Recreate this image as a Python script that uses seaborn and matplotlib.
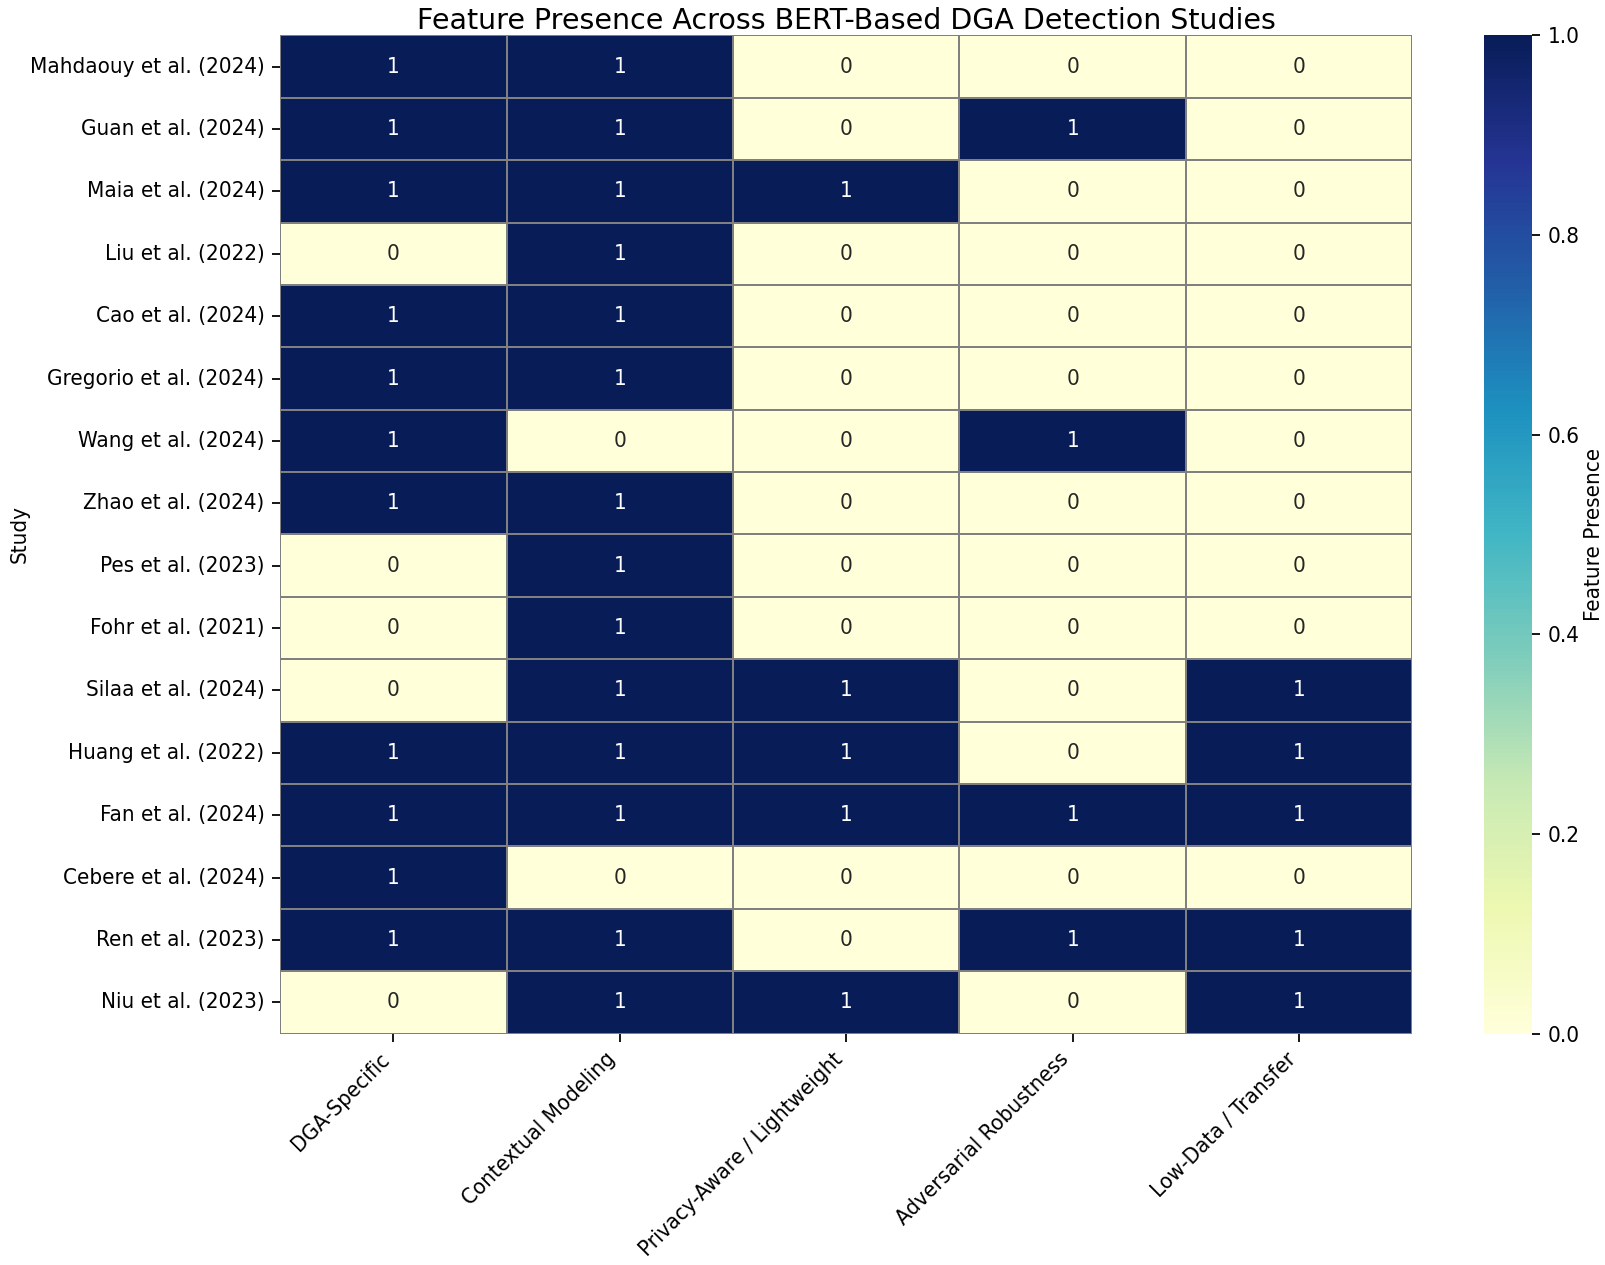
import numpy as np
import pandas as pd
import matplotlib
matplotlib.use("Agg")
import matplotlib.pyplot as plt
import seaborn as sns

studies = ["Mahdaouy et al. (2024)", "Guan et al. (2024)", "Maia et al. (2024)",
           "Liu et al. (2022)", "Cao et al. (2024)", "Gregorio et al. (2024)",
           "Wang et al. (2024)", "Zhao et al. (2024)", "Pes et al. (2023)",
           "Fohr et al. (2021)", "Silaa et al. (2024)", "Huang et al. (2022)",
           "Fan et al. (2024)", "Cebere et al. (2024)", "Ren et al. (2023)",
           "Niu et al. (2023)"]
features = ["DGA-Specific", "Contextual Modeling", "Privacy-Aware / Lightweight",
            "Adversarial Robustness", "Low-Data / Transfer"]

dga_specific = [1, 1, 1, 0, 1, 1, 1, 1, 0, 0, 0, 1, 1, 1, 1, 0]
contextual   = [1, 1, 1, 1, 1, 1, 0, 1, 1, 1, 1, 1, 1, 0, 1, 1]
privacy      = [0, 0, 1, 0, 0, 0, 0, 0, 0, 0, 1, 1, 1, 0, 0, 1]
adversarial  = [0, 1, 0, 0, 0, 0, 1, 0, 0, 0, 0, 0, 1, 0, 1, 0]
low_data     = [0, 0, 0, 0, 0, 0, 0, 0, 0, 0, 1, 1, 1, 0, 1, 1]

df = pd.DataFrame({features[0]: dga_specific, features[1]: contextual,
                   features[2]: privacy, features[3]: adversarial,
                   features[4]: low_data}, index=studies)

dpi = 160
fs = 10
fig = plt.figure(figsize=(1605 / dpi, 1265 / dpi), dpi=dpi)
ax = fig.add_axes([0.1745, 0.183, 0.7055, 0.789])
cax = fig.add_axes([0.9246, 0.183, 0.030, 0.789])

sns.heatmap(df, ax=ax, cbar_ax=cax, cmap="YlGnBu", annot=True, fmt="d",
            linewidths=0.8, linecolor="gray", vmin=0, vmax=1,
            annot_kws={"fontsize": fs, "fontstretch": "condensed"},
            cbar_kws={"label": "Feature Presence"})
ax.set_title("Feature Presence Across BERT-Based DGA Detection Studies", fontsize=12.8, pad=2)
ax.set_ylabel("Study", fontsize=fs, fontstretch="condensed")
ax.yaxis.set_label_coords(-0.221, 0.5)
ax.set_xlabel("")
plt.setp(ax.get_xticklabels(), rotation=45, ha="right", fontsize=fs, fontstretch="condensed")
plt.setp(ax.get_yticklabels(), rotation=0, fontsize=fs, fontstretch="condensed")
plt.setp(cax.get_yticklabels(), fontsize=fs, fontstretch="condensed")
cax.set_ylabel("Feature Presence", fontsize=fs, fontstretch="condensed", labelpad=2)
fig.savefig("out.png", dpi=dpi)
